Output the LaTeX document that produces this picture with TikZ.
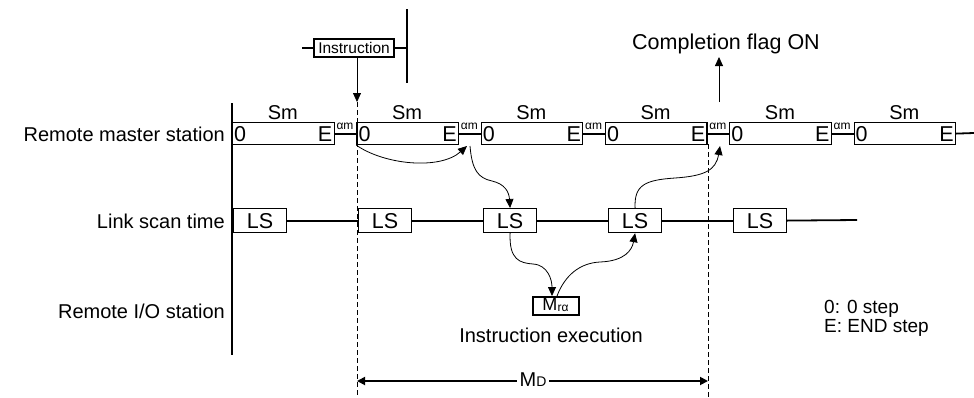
\documentclass[tikz,border=0pt]{standalone}
\usepackage{fontspec}
\setmainfont{Liberation Sans}
\usetikzlibrary{arrows.meta,calc}
\begin{document}
\begin{tikzpicture}[x=1pt,y=-1pt,
  every node/.style={inner sep=0pt, font=\fontsize{20}{24}\selectfont},
  sbox/.style={draw, line width=1.2pt, minimum width=101.5pt, minimum height=22pt, anchor=north west},
  lsbox/.style={draw, line width=1.2pt, minimum width=53pt, minimum height=24pt, anchor=north west},
  conn/.style={line width=1.8pt},
  thin/.style={line width=0.8pt},
  tip/.style={-{Triangle[length=9pt,width=8pt]}},
  vdash/.style={line width=0.8pt, dash pattern=on 5pt off 3pt},
  small/.style={font=\fontsize{12}{12}\selectfont},
  big/.style={font=\fontsize{21.5}{24}\selectfont},
  key/.style={font=\fontsize{19}{22}\selectfont}
]
\useasboundingbox (0,0) rectangle (974,397);

% Remote master station row
\foreach \i/\x in {1/232,2/356.3,3/480.6,4/604.9,5/729.2,6/853.5}{
  \node[sbox] (m\i) at (\x,122) {};
  \node[big, anchor=base west] (z\i) at (\x+2,141.5) {0};
  \node[big, anchor=base east] (e\i) at (\x+100.5,141.5) {E};
  \node[anchor=base] (s\i) at (\x+50.75,119) {Sm};
}
\foreach \i/\j/\x in {1/2/345,2/3/469.3,3/4/593.6,4/5/717.9,5/6/842.2}{
  \draw[conn] (m\i.east) -- (m\j.west);
  \node[small, anchor=base] (a\i) at (\x,129.5) {αm};
}
\coordinate (rend) at (974,133);
\draw[conn] (m6.east) -- (rend);

% left vertical
\coordinate (vt) at (232,103);
\coordinate (vb) at (232,355);
\draw[conn] (vt) -- (vb);

% Link scan row
\foreach \i/\x in {1/233,2/358,3/483,4/608,5/733}{
  \node[lsbox, big] (l\i) at (\x,208) {LS};
}
\foreach \i/\j in {1/2,2/3,3/4,4/5}{
  \draw[conn] (l\i.east) -- (l\j.west);
}
\coordinate (lend) at (857,220);
\draw[conn] (l5.east) -- (lend);

% Remote I/O
\node[draw, line width=2pt, minimum width=46pt, minimum height=17.5pt, anchor=north] (mr) at (556,296) {};
\node[anchor=base, font=\fontsize{18}{20}\selectfont] (mrt) at (555.5,310.5)
  {M\kern0.3pt\raisebox{-0.5pt}{\fontsize{12}{13}\selectfont rα}};

% Instruction
\node[draw, line width=1.2pt, minimum width=80pt, minimum height=18pt,
  font=\fontsize{15.5}{18}\selectfont] (ins) at (354,48) {Instruction};
\coordinate (tl) at (302,48);
\coordinate (tr) at (407,48);
\draw[conn] (tl) -- (ins.west);
\draw[conn] (ins.east) -- (tr);
\coordinate (vt2) at (407,9);
\coordinate (vb2) at (407,83);
\draw[line width=2.4pt] (vt2) -- (vb2);
\coordinate (ia) at (357,102);
\draw[thin, tip] (ins.south -| ia) -- (ia);
\coordinate (d1b) at (357,397);
\draw[vdash] (ia) -- (d1b);

% Completion flag
\node[anchor=base, big] (cf) at (726,49) {Completion flag ON};
\coordinate (cfa) at (719,102);
\coordinate (cft) at (719,57);
\draw[thin, tip] (cfa) -- (cft);
\coordinate (d2t) at (708,144);
\coordinate (d2b) at (708,397);
\draw[vdash] (d2t) -- (d2b);

% MD
\coordinate (mdl) at (357,381);
\coordinate (mdr) at (708,381);
\draw[conn, {Triangle[length=8pt,width=8pt]}-{Triangle[length=8pt,width=8pt]}] (mdl) -- (mdr);
\node[fill=white, inner xsep=2.5pt, inner ysep=1pt] (md) at (533,380) {M{\fontsize{14}{14}\selectfont D}};

% flow curves
\coordinate (g23) at (467,146);
\coordinate (g23s) at (470,146);
\coordinate (g45) at (720,146);
\draw[thin, tip] (m2.south west) .. controls (385,165) and (440,170) .. (g23);
\draw[thin, tip] (g23s) .. controls (472,170) and (478,178) .. (492,181)
   .. controls (505,184) and (509,192) .. (l3.north);
\draw[thin, tip] (l3.south) .. controls (509,260) and (520,263) .. (533,264)
   .. controls (548,265) and (552,280) .. ($(mr.north)+(-4,0)$);
\draw[thin, tip] ($(mr.north)+(1,0)$) .. controls (565,275) and (580,263) .. (600,262)
   .. controls (625,261) and (632,250) .. (l4.south);
\draw[thin, tip] (l4.north) .. controls (634,185) and (645,180) .. (675,178)
   .. controls (705,176) and (716,170) .. (g45);

% labels
\node[anchor=base east] (rms) at (225,141) {Remote master station};
\node[anchor=base east] (lst) at (225,228) {Link scan time};
\node[anchor=base east] (rio) at (225,318) {Remote I/O station};
\node[anchor=base] (iex) at (551,342) {Instruction execution};
\node[key, anchor=base west] (k1) at (824,313) {0: 0 step};
\node[key, anchor=base west] (k2) at (824,332) {E: END step};
\end{tikzpicture}
\end{document}
